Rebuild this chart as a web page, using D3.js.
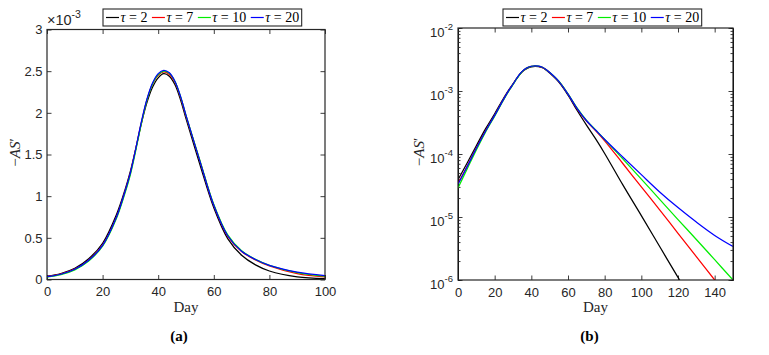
<!DOCTYPE html>
<html><head><meta charset="utf-8">
<script src="https://cdn.jsdelivr.net/npm/d3@7"></script>
<style>body{margin:0;background:#fff}svg{display:block}</style>
</head><body>
<svg id="c" width="769" height="355"></svg>
<script>
// ---------------- data ----------------
const days = [0,5,10,15,20,25,28,30,32,34,36,38,40,42,44,46,48,50,55,60,65,70,75,80,90,100,110,120,130,140,150];
const tau2  = [3.9e-5,7.2e-5,1.35e-4,2.5e-4,4.35e-4,7.8e-4,1.07e-3,1.3e-3,1.58e-3,1.88e-3,2.13e-3,2.31e-3,2.42e-3,2.47e-3,2.44e-3,2.34e-3,2.16e-3,1.93e-3,1.38e-3,8.6e-4,4.9e-4,2.9e-4,1.75e-4,1.02e-4,3.2e-5,1.05e-5,3.4e-6,1.1e-6,3.6e-7,1.2e-7,4e-8];
const tau7  = [3.4e-5,6.4e-5,1.24e-4,2.32e-4,4.12e-4,7.5e-4,1.05e-3,1.28e-3,1.58e-3,1.89e-3,2.16e-3,2.35e-3,2.45e-3,2.49e-3,2.46e-3,2.37e-3,2.19e-3,1.96e-3,1.42e-3,8.9e-4,5.2e-4,3.35e-4,2.35e-4,1.62e-4,7.0e-5,3.0e-5,1.3e-5,5.5e-6,2.35e-6,1.0e-6,4.3e-7];
const tau10 = [2.9e-5,5.8e-5,1.16e-4,2.22e-4,4.0e-4,7.35e-4,1.03e-3,1.26e-3,1.56e-3,1.88e-3,2.16e-3,2.35e-3,2.46e-3,2.50e-3,2.475e-3,2.38e-3,2.2e-3,1.97e-3,1.43e-3,9.0e-4,5.35e-4,3.45e-4,2.42e-4,1.7e-4,8.3e-5,4.0e-5,1.9e-5,9.1e-6,4.4e-6,2.1e-6,1.0e-6];
const tau20 = [3.3e-5,6.3e-5,1.23e-4,2.3e-4,4.1e-4,7.5e-4,1.05e-3,1.28e-3,1.58e-3,1.9e-3,2.17e-3,2.36e-3,2.47e-3,2.51e-3,2.48e-3,2.38e-3,2.2e-3,1.97e-3,1.42e-3,8.9e-4,5.25e-4,3.4e-4,2.4e-4,1.7e-4,8.9e-5,4.7e-5,2.5e-5,1.41e-5,8.3e-6,5.1e-6,3.4e-6];
const seriesTau = ["2","7","10","20"];
const seriesVals = [tau2, tau7, tau10, tau20];
const seriesColors = ["#000000","#ff0000","#00ee00","#0000ff"];

const linXTicks = [0,20,40,60,80,100];
const linYTicks = [0,0.5e-3,1e-3,1.5e-3,2e-3,2.5e-3,3e-3];
const linYLabels = ["0","0.5","1","1.5","2","2.5","3"];
const logXTicks = [0,20,40,60,80,100,120,140];
const logYTicks = [1e-6,1e-5,1e-4,1e-3,1e-2];
const logYExp = ["-6","-5","-4","-3","-2"];

// ---------------- drawing ----------------
const svg = d3.select("#c");
const AX = "#262626";
const SANS = "'Liberation Sans', Arial, Helvetica, sans-serif";
const SERIF = "'Liberation Serif', 'Times New Roman', serif";

function panel(id, x, y, maxDay, xTicks, isLog, legendX, caption) {
  const g = svg.append("g");
  const [x0,x1] = x.range(), [yb,yt] = y.range();
  g.append("clipPath").attr("id","clip"+id).append("rect")
    .attr("x",x0).attr("y",yt).attr("width",x1-x0).attr("height",yb-yt);

  const ax = d3.axisBottom(x).tickValues(xTicks).tickSize(-4.5).tickPadding(7.5).tickFormat(d3.format("d"));
  const gb = g.append("g").attr("transform",`translate(0,${yb})`).call(ax);
  const gt = g.append("g").attr("transform",`translate(0,${yt})`)
    .call(d3.axisTop(x).tickValues(xTicks).tickSize(-4.5).tickFormat(""));
  let gl, gr;
  if (!isLog) {
    gl = g.append("g").attr("transform",`translate(${x0},0)`)
      .call(d3.axisLeft(y).tickValues(linYTicks).tickSize(-4.5).tickPadding(4.5).tickFormat((d,i)=>linYLabels[i]));
    gr = g.append("g").attr("transform",`translate(${x1},0)`)
      .call(d3.axisRight(y).tickValues(linYTicks).tickSize(-4.5).tickFormat(""));
  } else {
    gl = g.append("g").attr("transform",`translate(${x0},0)`)
      .call(d3.axisLeft(y).tickValues(logYTicks).tickSize(-4.5).tickFormat(""));
    gr = g.append("g").attr("transform",`translate(${x1},0)`)
      .call(d3.axisRight(y).tickValues(logYTicks).tickSize(-4.5).tickFormat(""));
    const minors = y.ticks().filter(v => !logYTicks.some(m => Math.abs(m-v)/v < 1e-6));
    g.append("g").attr("transform",`translate(${x0},0)`)
      .call(d3.axisLeft(y).tickValues(minors).tickSize(-2.5).tickFormat(""));
    g.append("g").attr("transform",`translate(${x1},0)`)
      .call(d3.axisRight(y).tickValues(minors).tickSize(-2.5).tickFormat(""));
    const lab = g.append("g").selectAll("text").data(logYTicks).join("text")
      .attr("x", x0-5).attr("y", d => y(d)+8.5)
      .attr("text-anchor","end").attr("fill",AX)
      .style("font-family",SANS).style("font-size","13px");
    lab.append("tspan").text("10");
    lab.append("tspan").attr("dy",-6.5).style("font-size","9.5px").text((d,i)=>logYExp[i]);
  }
  [gb,gt,gl,gr].forEach(s => s.select(".domain").remove());
  g.selectAll(".tick line").attr("stroke",AX).attr("stroke-width",0.9);
  g.selectAll(".tick text").attr("fill",AX).style("font-family",SANS).style("font-size","13px");

  const line = d3.line().x(d => x(d[0])).y(d => y(d[1])).curve(d3.curveCatmullRom.alpha(0.5));
  const lg = g.append("g").attr("clip-path",`url(#clip${id})`);
  seriesVals.forEach((vals,i) => {
    const pts = days.map((dd,k)=>[dd, vals[k]]).filter(p => p[0] <= maxDay);
    lg.append("path").attr("d", line(pts)).attr("fill","none")
      .attr("stroke", seriesColors[i]).attr("stroke-width",1.25);
  });

  g.append("rect").attr("x",x0).attr("y",yt).attr("width",x1-x0).attr("height",yb-yt)
    .attr("fill","none").attr("stroke",AX).attr("stroke-width",1.2);

  g.append("text").attr("x",(x0+x1)/2).attr("y",312).attr("text-anchor","middle")
    .attr("fill",AX).style("font-family",SERIF).style("font-size","15px").text("Day");
  const yl = g.append("text")
    .attr("transform",`translate(${isLog ? 424 : 20},${(yb+yt)/2 - 2}) rotate(-90)`)
    .attr("text-anchor","middle").attr("fill",AX).style("font-family",SERIF).style("font-size","15px");
  yl.append("tspan").text("\u2212");
  yl.append("tspan").style("font-style","italic").text("AS");
  yl.append("tspan").text("\u2032");
  g.append("text").attr("x",(x0+x1)/2 - (isLog?6:7)).attr("y",341).attr("text-anchor","middle")
    .attr("fill","#000").style("font-family",SERIF).style("font-weight","bold").style("font-size","15px").text(caption);

  const leg = g.append("g");
  const box = leg.append("rect").attr("y",9).attr("height",17).attr("fill","#fff")
    .attr("stroke",AX).attr("stroke-width",1.1);
  let cx = legendX + 3;
  seriesTau.forEach((t,i) => {
    leg.append("line").attr("x1",cx).attr("x2",cx+13).attr("y1",17.5).attr("y2",17.5)
      .attr("stroke",seriesColors[i]).attr("stroke-width",1.2);
    cx += 14.5;
    const tx = leg.append("text").attr("x",cx).attr("y",22).attr("fill","#000")
      .style("font-family",SERIF).style("font-size","14px");
    tx.append("tspan").style("font-style","italic").text("\u03C4");
    tx.append("tspan").text(" = " + t);
    cx += tx.node().getComputedTextLength() + 4.5;
  });
  box.attr("x",legendX).attr("width",cx - legendX - 2);
}

const xL = d3.scaleLinear().domain([0,100]).range([47,325]);
const yL = d3.scaleLinear().domain([0,3e-3]).range([279.5,29.5]);
panel("a", xL, yL, 100, linXTicks, false, 103, "(a)");

const xR = d3.scaleLinear().domain([0,150]).range([458,733]);
const yR = d3.scaleLog().domain([1e-6,1e-2]).range([280,28]);
panel("b", xR, yR, 150, logXTicks, true, 503, "(b)");

const mult = svg.append("text").attr("x",47).attr("y",25).attr("fill",AX)
  .style("font-family",SANS).style("font-size","14.5px");
mult.append("tspan").text("\u00D710");
mult.append("tspan").attr("dy",-7).style("font-size","10.5px").text("-3");
</script>
</body></html>
